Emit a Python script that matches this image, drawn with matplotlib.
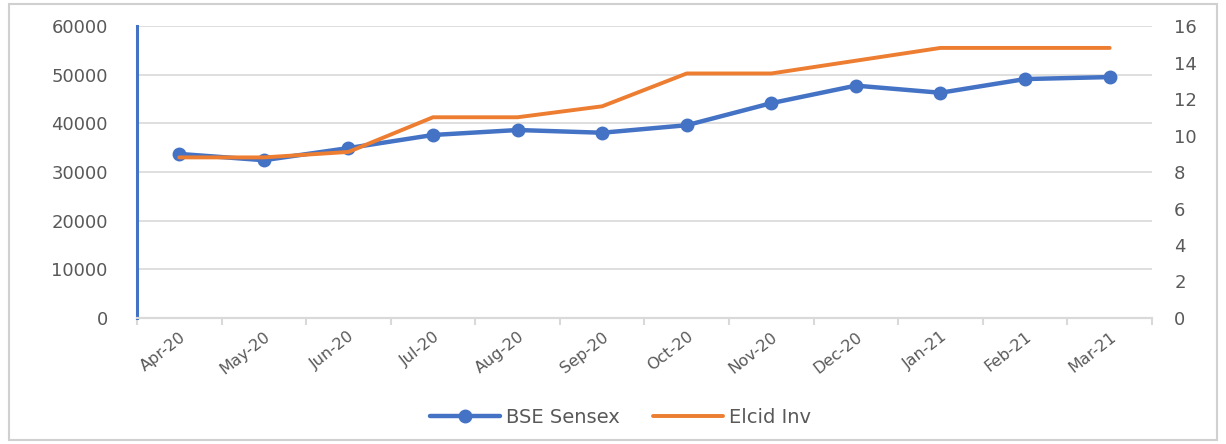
import matplotlib
matplotlib.use("Agg")
import matplotlib.pyplot as plt
import numpy as np
from matplotlib.patches import Rectangle

months = ["Apr-20", "May-20", "Jun-20", "Jul-20", "Aug-20", "Sep-20",
          "Oct-20", "Nov-20", "Dec-20", "Jan-21", "Feb-21", "Mar-21"]
sensex = [33717, 32424, 34916, 37607, 38628, 38068,
          39614, 44150, 47751, 46286, 49100, 49509]
elcid = [8.8, 8.8, 9.1, 11.0, 11.0, 11.6,
         13.4, 13.4, 14.1, 14.8, 14.8, 14.8]

BLUE = "#4472C4"
ORANGE = "#ED7D31"
GRID = "#D9D9D9"
TXT = "#595959"

plt.rcParams["font.family"] = ["DejaVu Sans"]

fig = plt.figure(figsize=(12.26, 4.44), dpi=100)
fig.patches.append(Rectangle((0.007, 0.01), 0.986, 0.982, transform=fig.transFigure,
                             fill=False, edgecolor="#D0D0D0", lw=1.5))
ax = fig.add_axes([0.1117, 0.2838, 0.8279, 0.6576])
ax2 = ax.twinx()

x = np.arange(len(months))
ax.set_xlim(-0.5, len(months) - 0.5)
ax.set_ylim(0, 60000)
ax2.set_ylim(0, 16)
ax.set_yticks(np.arange(0, 60001, 10000))
ax2.set_yticks(np.arange(0, 17, 2))
ax.grid(axis="y", color=GRID, lw=1.2)
ax.set_axisbelow(True)

l1, = ax.plot(x, sensex, color=BLUE, lw=3.2, marker="o", ms=9, label="BSE Sensex",
              solid_capstyle="round", zorder=3)
l2, = ax2.plot(x, elcid, color=ORANGE, lw=2.8, label="Elcid Inv",
               solid_capstyle="round", zorder=3)

for a in (ax, ax2):
    for s in ("top", "right", "left"):
        a.spines[s].set_visible(False)
    a.spines["bottom"].set_color(GRID)
    a.spines["bottom"].set_linewidth(1.5)
ax.spines["left"].set_visible(True)
ax.spines["left"].set_color(BLUE)
ax.spines["left"].set_linewidth(2.2)

ax.set_xticks(x)
ax.set_xticklabels(months, rotation=38, ha="right", rotation_mode="anchor",
                   color=TXT, fontsize=11.5)
ax.set_xticks(np.arange(-0.5, len(months)), minor=True)
ax.tick_params(axis="x", which="major", length=0, pad=8)
ax.tick_params(axis="x", which="minor", length=5, color=GRID, width=1.5)
ax.tick_params(axis="y", length=0, labelcolor=TXT, labelsize=13, pad=21)
ax2.tick_params(axis="y", length=0, labelcolor=TXT, labelsize=13, pad=16)

fig.legend([l1, l2], ["BSE Sensex", "Elcid Inv"], loc="center",
           bbox_to_anchor=(0.506, 0.06), ncol=2, frameon=False, fontsize=14,
           handlelength=3.6, handletextpad=0.3, columnspacing=1.7, labelcolor=TXT)

fig.savefig("out.png", dpi=100)
